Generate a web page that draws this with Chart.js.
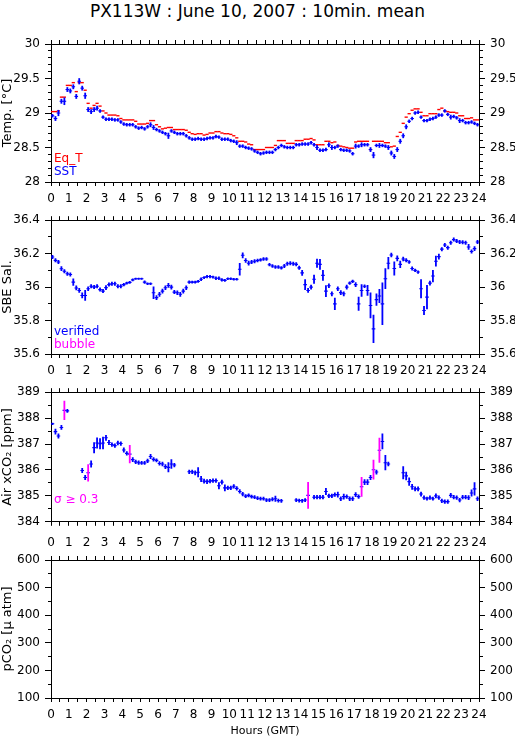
<!DOCTYPE html>
<html><head><meta charset="utf-8"><title>PX113W</title>
<script src="https://cdn.jsdelivr.net/npm/chart.js@4.4.1/dist/chart.umd.min.js"></script>
<style>
html,body{margin:0;padding:0;background:#fff}
#wrap{position:relative;width:515px;height:739px;overflow:hidden;background:#fff}
#title{position:absolute;left:0;top:0;width:515px;text-align:center;font:17px/23px 'DejaVu Sans',sans-serif;color:#000;white-space:nowrap}
canvas{position:absolute;left:0}
</style></head><body>
<div id="wrap">
<div id="title">PX113W : June 10, 2007 : 10min. mean</div>
<canvas id="c1" width="515" height="184" style="top:24px"></canvas>
<canvas id="c2" width="515" height="172" style="top:208px"></canvas>
<canvas id="c3" width="515" height="154" style="top:380px"></canvas>
<canvas id="c4" width="515" height="205" style="top:534px"></canvas>
</div>
<script>
// ---- categories: centre of each 10-minute averaging interval (minutes of day, GMT)
const minutes = [5,15,25,35,45,55,65,75,85,95,105,115,125,135,145,155,165,175,185,195,205,215,225,235,
245,255,265,275,285,295,305,315,325,335,345,355,365,375,385,395,405,415,425,435,445,455,465,475,
485,495,505,515,525,535,545,555,565,575,585,595,605,615,625,635,645,655,665,675,685,695,705,715,
725,735,745,755,765,775,785,795,805,815,825,835,845,855,865,875,885,895,905,915,925,935,945,955,
965,975,985,995,1005,1015,1025,1035,1045,1055,1065,1075,1085,1095,1105,1115,1125,1135,1145,1155,1165,1175,1185,1195,
1205,1215,1225,1235,1245,1255,1265,1275,1285,1295,1305,1315,1325,1335,1345,1355,1365,1375,1385,1395,1405,1415,1425,1435];

// ---- Panel 1: temperatures [deg C]
const sst = [28.96,28.92,29.00,29.17,29.17,29.34,29.32,29.38,29.24,29.46,29.36,29.25,
29.05,29.02,29.05,29.07,29.03,28.94,28.91,28.91,28.91,28.90,28.90,28.87,
28.84,28.83,28.83,28.83,28.80,28.78,28.79,28.77,28.80,28.83,28.79,28.76,
28.74,28.72,28.70,28.67,28.74,28.72,28.70,28.70,28.70,28.67,28.64,28.62,
28.62,28.63,28.62,28.62,28.63,28.64,28.64,28.66,28.65,28.62,28.62,28.62,
28.60,28.59,28.57,28.52,28.52,28.50,28.49,28.48,28.45,28.43,28.41,28.42,
28.43,28.43,28.43,28.47,28.50,28.53,28.51,28.50,28.50,28.50,28.54,28.54,
28.55,28.55,28.55,28.57,28.54,28.50,28.46,28.46,28.47,28.54,28.50,28.50,
28.52,28.47,28.46,28.46,28.45,28.41,28.52,28.52,28.54,28.54,28.54,28.47,
28.39,28.53,28.53,28.53,28.52,28.50,28.42,28.37,28.47,28.59,28.67,28.80,
28.88,28.92,29.00,29.01,28.94,28.89,28.89,28.91,28.92,28.94,28.97,28.97,
29.03,28.98,28.94,28.95,28.93,28.89,28.89,28.86,28.86,28.87,28.85,28.83];
const sstSd = [.02,.03,.04,.03,.05,.03,.03,.03,.03,.04,.03,.04,
.03,.03,.03,.03,.02,.02,.02,.02,.02,.02,.02,.02,
.02,.02,.02,.02,.02,.02,.02,.02,.02,.03,.03,.02,
.02,.02,.02,.04,.02,.02,.02,.02,.02,.02,.02,.02,
.02,.02,.02,.02,.02,.02,.02,.02,.02,.02,.02,.02,
.02,.02,.03,.02,.02,.02,.02,.02,.02,.02,.02,.02,
.02,.02,.02,.02,.02,.02,.02,.02,.02,.02,.02,.02,
.02,.02,.02,.02,.02,.03,.02,.02,.02,.03,.03,.02,
.02,.02,.02,.02,.02,.02,.03,.02,.03,.02,.02,.03,
.04,.02,.03,.02,.02,.03,.03,.03,.03,.03,.03,.03,
.02,.02,.02,.02,.02,.02,.02,.02,.02,.02,.02,.02,
.02,.02,.03,.02,.02,.03,.02,.02,.02,.02,.02,.02];
const eqT = [29.02,29.02,29.03,29.23,29.23,29.40,29.40,29.44,29.31,29.44,29.44,29.33,
29.14,29.07,29.11,29.14,29.10,29.03,29.00,28.97,28.97,28.97,28.96,28.92,
28.90,28.90,28.90,28.90,28.88,28.84,28.84,28.84,28.85,28.89,28.89,28.83,
28.80,28.77,28.78,28.79,28.79,28.76,28.76,28.76,28.76,28.75,28.72,28.70,
28.69,28.70,28.70,28.68,28.69,28.71,28.71,28.73,28.73,28.71,28.70,28.70,
28.69,28.67,28.64,28.59,28.59,28.58,28.55,28.54,28.47,28.47,28.47,28.47,
28.50,28.50,28.50,28.53,28.60,28.60,28.60,28.56,28.56,28.56,28.60,28.60,
28.60,28.62,28.62,28.63,28.61,28.54,28.54,28.54,28.59,28.59,28.57,28.58,
28.53,28.52,28.51,28.50,28.49,28.49,28.58,28.59,28.59,28.59,28.59,28.47,
28.59,28.59,28.59,28.59,28.57,28.57,28.51,28.52,28.66,28.72,28.85,28.94,
28.99,29.04,29.06,29.06,29.01,28.96,28.96,28.99,28.99,28.99,29.05,29.07,
29.03,29.02,29.01,29.01,29.00,28.96,28.96,28.92,28.92,28.93,28.90,28.90];

// ---- Panel 2: SBE salinity
const sal = [36.180,36.160,36.150,36.110,36.095,36.080,36.075,36.030,35.995,35.980,35.950,35.950,
35.990,36.005,36.000,36.005,35.985,35.976,35.997,36.015,36.020,36.020,36.005,36.005,
36.015,36.024,36.028,36.043,36.050,36.050,36.050,36.030,36.020,36.020,35.966,35.937,
35.957,35.976,35.996,36.010,36.000,35.970,35.966,35.957,35.976,35.996,36.030,36.030,
36.030,36.034,36.047,36.057,36.063,36.063,36.060,36.053,36.053,36.043,36.040,36.050,
36.050,36.047,36.047,36.107,36.190,36.159,36.143,36.150,36.155,36.159,36.163,36.168,
36.168,36.134,36.126,36.120,36.120,36.115,36.126,36.140,36.143,36.140,36.136,36.115,
36.085,36.015,35.980,36.000,36.047,36.143,36.136,36.070,35.976,36.008,35.960,35.900,
35.990,35.967,35.960,36.000,36.024,36.034,36.015,35.900,35.980,36.005,35.980,35.890,
35.750,35.925,35.947,35.900,36.050,36.143,36.192,36.111,36.172,36.136,36.168,36.160,
36.150,36.111,36.100,36.090,35.990,35.860,35.940,36.024,36.066,36.155,36.182,36.227,
36.252,36.236,36.265,36.284,36.275,36.270,36.268,36.265,36.240,36.213,36.230,36.270];
const salSd = [.01,.01,.01,.012,.01,.01,.01,.02,.012,.012,.015,.03,
.012,.01,.01,.01,.01,.01,.012,.01,.01,.01,.01,.01,
.008,.006,.006,.006,.004,.004,.004,.008,.006,.006,.035,.012,
.012,.012,.012,.012,.012,.01,.012,.012,.012,.012,.008,.006,
.006,.006,.008,.006,.008,.008,.006,.008,.008,.008,.006,.006,
.006,.006,.006,.035,.015,.012,.012,.01,.01,.008,.008,.008,
.008,.008,.008,.008,.008,.008,.01,.01,.01,.01,.01,.01,
.015,.03,.012,.012,.025,.025,.03,.03,.033,.012,.012,.035,
.012,.012,.012,.012,.008,.008,.012,.04,.035,.008,.03,.075,
.083,.035,.04,.125,.06,.035,.012,.04,.015,.02,.012,.01,
.008,.01,.008,.008,.055,.025,.07,.012,.035,.03,.015,.01,
.01,.01,.01,.01,.01,.01,.01,.01,.015,.01,.012,.01];

// ---- Panel 3: air xCO2 [ppm] (null = no measurement)
const co2 = [387.78,387.48,387.31,387.64,388.30,388.28,null,null,null,null,385.98,385.71,
385.89,386.23,386.86,387.04,387.01,387.04,387.24,387.06,386.98,386.94,387.04,387.02,
386.77,386.64,386.61,386.40,386.31,386.28,386.27,386.27,386.35,386.52,386.41,386.37,
386.25,386.23,386.13,386.10,386.23,386.19,null,null,null,null,385.93,385.93,
385.89,385.91,385.65,385.57,385.55,385.57,385.59,385.59,385.39,385.53,385.31,385.31,
385.31,385.37,385.29,385.17,385.07,384.99,385.02,384.97,384.95,384.91,384.89,384.89,
384.84,384.84,384.87,384.89,384.82,384.81,null,null,null,null,384.84,384.82,
384.81,384.84,385.02,null,384.95,384.95,384.95,384.95,385.17,385.00,385.00,385.05,
385.05,384.89,384.97,384.97,384.89,384.89,385.05,384.97,385.35,385.53,385.53,385.71,
386.01,385.92,386.76,387.10,386.28,386.23,null,null,null,null,385.89,385.77,
385.55,385.35,385.27,385.27,385.07,384.93,384.89,384.93,384.89,385.00,384.93,384.81,
384.78,384.78,385.02,384.95,384.93,384.84,384.95,384.95,384.93,385.11,385.27,384.89];
const co2Sd = [.03,.1,.08,.08,.36,.06,0,0,0,0,.08,.08,
.32,.12,.2,.2,.2,.23,.1,.08,.07,.07,.07,.07,
.08,.07,.34,.08,.07,.07,.06,.06,.07,.08,.07,.06,
.07,.07,.08,.18,.17,.07,0,0,0,0,.07,.07,
.08,.18,.1,.08,.08,.07,.07,.07,.12,.08,.12,.07,
.07,.07,.07,.07,.07,.06,.06,.06,.06,.06,.06,.06,
.06,.06,.06,.1,.06,.06,0,0,0,0,.06,.06,
.06,.06,.5,0,.07,.07,.07,.07,.12,.07,.07,.07,
.1,.07,.1,.07,.07,.07,.08,.07,.37,.1,.1,.08,
.37,.08,.47,.29,.28,.07,0,0,0,0,.24,.15,
.15,.1,.08,.08,.08,.07,.06,.07,.06,.08,.07,.07,
.07,.07,.08,.07,.07,.07,.07,.07,.08,.12,.24,.07];
const sigmaFlag = 0.3;

// ---- tick labels
const hourLabels = ['0','1','2','3','4','5','6','7','8','9','10','11','12','13','14','15','16','17','18','19','20','21','22','23','24'];
const hourValues = [0,1,2,3,4,5,6,7,8,9,10,11,12,13,14,15,16,17,18,19,20,21,22,23,24];
const tempTickValues = [28,28.5,29,29.5,30];
const tempTickLabels = ['28','28.5','29','29.5','30'];
const salTickValues = [35.6,35.8,36,36.2,36.4];
const salTickLabels = ['35.6','35.8','36','36.2','36.4'];
const co2TickValues = [384,385,386,387,388,389];
const co2TickLabels = ['384','385','386','387','388','389'];
const pco2TickValues = [100,200,300,400,500,600];
const pco2TickLabels = ['100','200','300','400','500','600'];

// ---- styling
const BLUE = '#0000ff', RED = '#ff0000', MAG = '#ff00ff';
const FONT = "'DejaVu Sans', 'Liberation Sans', sans-serif";
Chart.defaults.font.family = FONT;
Chart.defaults.font.size = 12;
Chart.defaults.color = '#000';

const hours = minutes.map(m => m / 60);

function marks(vals) {
  const out = [];
  vals.forEach((v, i) => { if (v !== null) out.push({x: hours[i], y: v}); });
  return out;
}
function errBars(vals, sds) {
  const out = [];
  vals.forEach((v, i) => { if (v !== null) out.push({x: hours[i], y: [v - sds[i], v + sds[i]], sd: sds[i]}); });
  return out;
}
function dashSet(vals, color, r, w) {
  return {type: 'scatter', data: marks(vals), showLine: false, pointStyle: 'line',
    pointRadius: r, pointHoverRadius: r, pointBorderWidth: w, pointBorderColor: color,
    pointBackgroundColor: color, borderColor: color};
}
function barSet(vals, sds, colorFn) {
  return {type: 'bar', data: errBars(vals, sds), barThickness: 1.15, grouped: false,
    borderWidth: 0, backgroundColor: colorFn};
}

function xAxis(position, showLabels, h, title) {
  return {
    type: 'linear', position: position, min: 0, max: 24, offset: false,
    grid: {drawOnChartArea: false, drawTicks: true, tickLength: 4, color: '#000', tickColor: '#000', offset: false, lineWidth: 1},
    border: {display: true, color: '#000', width: 1},
    ticks: {display: showLabels, autoSkip: false, maxRotation: 0, minRotation: 0, padding: 6, color: '#000',
      font: {size: 12},
      callback: v => { const k = hourValues.indexOf(v); return k < 0 ? '' : hourLabels[k]; }},
    afterBuildTicks: s => { const t = []; for (let v = 0; v <= 24; v += 0.5) t.push({value: v}); s.ticks = t; },
    afterFit: s => { s.height = h; },
    title: title ? {display: true, text: title, color: '#000', font: {size: 11}, padding: {top: 0, bottom: 1}} : {display: false}
  };
}
function yAxis(position, min, max, minorStep, tv, tl, title) {
  const left = position === 'left';
  const isMajor = v => tv.some(m => Math.abs(m - v) < 1e-7);
  return {
    type: 'linear', position: position, min: min, max: max, beginAtZero: false,
    grid: {drawOnChartArea: false, drawTicks: true, tickLength: 6, color: '#000', tickColor: '#000', lineWidth: 1,
      tickBorderDash: ctx => (ctx.tick && isMajor(ctx.tick.value)) ? [] : (left ? [0, 3, 20] : [3, 20])},
    border: {display: true, color: '#000', width: 1},
    ticks: {autoSkip: false, padding: 5, crossAlign: 'near', color: '#000', font: {size: 12},
      callback: v => { const k = tv.findIndex(m => Math.abs(m - v) < 1e-7); return k < 0 ? '' : tl[k]; }},
    afterBuildTicks: s => { const t = []; const n = Math.round((max - min) / minorStep);
      for (let i = 0; i <= n; i++) t.push({value: +(min + i * minorStep).toFixed(6)}); s.ticks = t; },
    afterFit: s => { s.width = left ? 51 : 36; },
    title: (left && title) ? {display: true, text: title, color: '#000', font: {size: 13}, padding: {top: 0, bottom: 0}} : {display: false}
  };
}

const panelText = {
  id: 'panelText',
  afterDatasetsDraw(chart, args, opts) {
    const {ctx, chartArea} = chart;
    (opts.items || []).forEach(it => {
      ctx.save();
      ctx.font = it.size + 'px ' + FONT;
      ctx.fillStyle = it.color;
      ctx.textAlign = 'left';
      ctx.textBaseline = 'middle';
      ctx.fillText(it.text, chartArea.left + it.dx, chartArea.bottom - it.dy);
      ctx.restore();
    });
  }
};

function makeChart(id, cfg) {
  return new Chart(document.getElementById(id), {
    type: 'scatter',
    data: {datasets: cfg.datasets},
    options: {
      responsive: false, animation: false, events: [],
      layout: {padding: 0, autoPadding: false},
      plugins: {legend: {display: false}, tooltip: {enabled: false}, title: {display: false},
        panelText: {items: cfg.texts}},
      scales: {
        x: xAxis('bottom', cfg.bottomLabels, cfg.botH, cfg.xTitle),
        xTop: xAxis('top', cfg.topLabels, cfg.topH, null),
        y: yAxis('left', cfg.min, cfg.max, cfg.minor, cfg.tv, cfg.tl, cfg.yTitle),
        yRight: yAxis('right', cfg.min, cfg.max, cfg.minor, cfg.tv, cfg.tl, null)
      }
    },
    plugins: [panelText]
  });
}

makeChart('c1', {
  datasets: [barSet(sst, sstSd, BLUE), dashSet(sst, BLUE, 1.8, 1.1), dashSet(eqT, RED, 1.6, 1.4)],
  texts: [{text: 'Eq_T', color: RED, size: 12, dx: 3, dy: 23}, {text: 'SST', color: BLUE, size: 12, dx: 3, dy: 10}],
  bottomLabels: true, topLabels: false, topH: 20, botH: 26, xTitle: null,
  min: 28, max: 30, minor: 0.1, tv: tempTickValues, tl: tempTickLabels, yTitle: 'Temp. [°C]'
});
makeChart('c2', {
  datasets: [barSet(sal, salSd, BLUE), dashSet(sal, BLUE, 1.8, 1.1)],
  texts: [{text: 'verified', color: BLUE, size: 12, dx: 3, dy: 22}, {text: 'bubble', color: MAG, size: 12, dx: 3, dy: 9}],
  bottomLabels: true, topLabels: false, topH: 8, botH: 26, xTitle: null,
  min: 35.6, max: 36.4, minor: 0.1, tv: salTickValues, tl: salTickLabels, yTitle: 'SBE Sal.'
});
makeChart('c3', {
  datasets: [barSet(co2, co2Sd, c => (c.raw && c.raw.sd >= sigmaFlag) ? MAG : BLUE), dashSet(co2, BLUE, 1.8, 1.1)],
  texts: [{text: 'σ ≥ 0.3', color: MAG, size: 12, dx: 3, dy: 22}],
  bottomLabels: false, topLabels: false, topH: 8, botH: 8, xTitle: null,
  min: 384, max: 389, minor: 0.5, tv: co2TickValues, tl: co2TickLabels, yTitle: 'Air xCO₂ [ppm]'
});
makeChart('c4', {
  datasets: [],
  texts: [],
  bottomLabels: true, topLabels: true, topH: 26, botH: 41, xTitle: 'Hours (GMT)',
  min: 100, max: 600, minor: 50, tv: pco2TickValues, tl: pco2TickLabels, yTitle: 'pCO₂ [μ atm]'
});
</script>
</body></html>
